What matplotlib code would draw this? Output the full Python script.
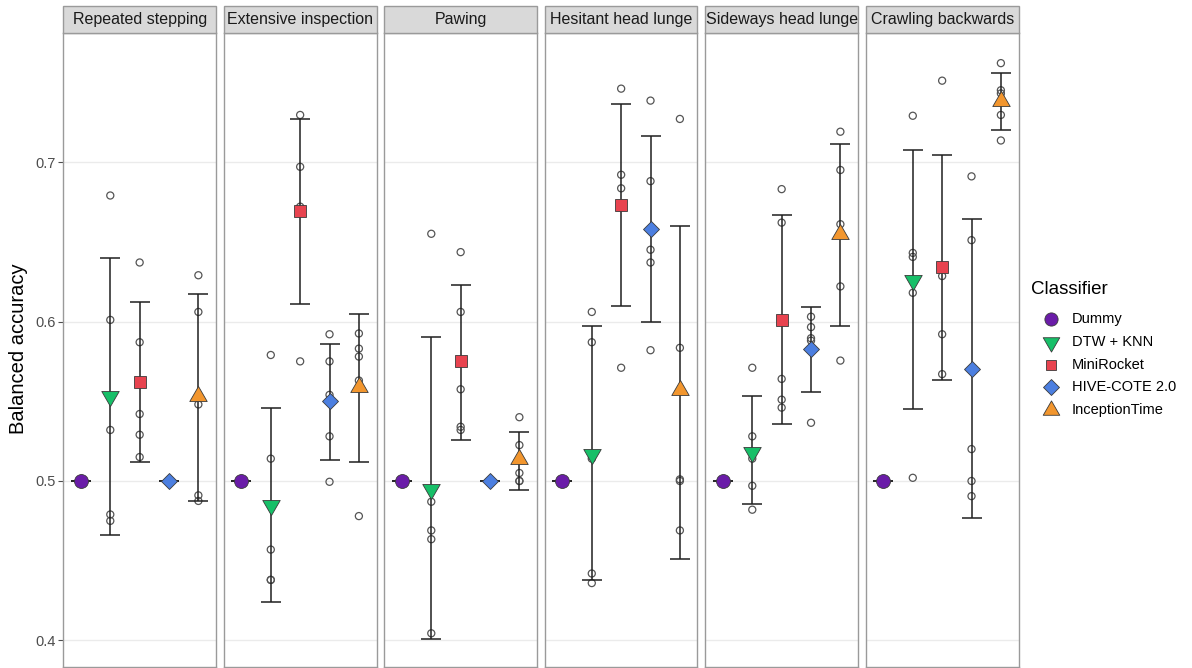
import numpy as np
import matplotlib
matplotlib.use("Agg")
import matplotlib.pyplot as plt
from matplotlib.lines import Line2D
from matplotlib.patches import Rectangle
from matplotlib.path import Path

plt.rcParams["font.family"] = ["Liberation Sans", "DejaVu Sans"]

BEHAVIOURS = ["Repeated stepping", "Extensive inspection", "Pawing",
              "Hesitant head lunge", "Sideways head lunge", "Crawling backwards"]
CLASSIFIERS = ["Dummy", "DTW + KNN", "MiniRocket", "HIVE-COTE 2.0", "InceptionTime"]

# mean balanced accuracy per behaviour (rows) and classifier (columns)
MEAN = [
    [0.500, 0.553, 0.562, 0.500, 0.553],
    [0.500, 0.485, 0.669, 0.550, 0.559],
    [0.500, 0.495, 0.575, 0.500, 0.5135],
    [0.500, 0.517, 0.673, 0.658, 0.557],
    [0.500, 0.518, 0.601, 0.583, 0.655],
    [0.500, 0.626, 0.634, 0.5705, 0.7385],
]
# error bar ends (mean -/+ sd)
LOWER = [
    [0.500, 0.466, 0.512, 0.500, 0.4875],
    [0.500, 0.424, 0.611, 0.513, 0.512],
    [0.500, 0.401, 0.526, 0.500, 0.4945],
    [0.500, 0.438, 0.6095, 0.5995, 0.451],
    [0.500, 0.4855, 0.5355, 0.556, 0.597],
    [0.500, 0.545, 0.5635, 0.477, 0.720],
]
UPPER = [
    [0.500, 0.640, 0.612, 0.500, 0.617],
    [0.500, 0.546, 0.727, 0.586, 0.605],
    [0.500, 0.590, 0.623, 0.500, 0.5305],
    [0.500, 0.597, 0.7365, 0.7165, 0.660],
    [0.500, 0.553, 0.667, 0.609, 0.7115],
    [0.500, 0.7075, 0.7045, 0.664, 0.756],
]
# balanced accuracy of each of the five runs
RUNS = [
    [[0.5] * 5,
     [0.679, 0.601, 0.532, 0.479, 0.475],
     [0.637, 0.587, 0.542, 0.529, 0.515],
     [0.5] * 5,
     [0.629, 0.606, 0.548, 0.491, 0.4875]],
    [[0.5] * 5,
     [0.579, 0.514, 0.457, 0.438, 0.438],
     [0.7295, 0.697, 0.672, 0.575, 0.670],
     [0.592, 0.575, 0.554, 0.528, 0.4995],
     [0.5925, 0.583, 0.578, 0.563, 0.478]],
    [[0.5] * 5,
     [0.655, 0.487, 0.469, 0.4635, 0.4045],
     [0.6435, 0.606, 0.5575, 0.534, 0.532],
     [0.5] * 5,
     [0.540, 0.5225, 0.500, 0.500, 0.505]],
    [[0.5] * 5,
     [0.606, 0.587, 0.514, 0.442, 0.436],
     [0.746, 0.692, 0.6835, 0.673, 0.571],
     [0.7385, 0.688, 0.645, 0.637, 0.582],
     [0.727, 0.5835, 0.500, 0.501, 0.469]],
    [[0.5] * 5,
     [0.571, 0.528, 0.514, 0.497, 0.482],
     [0.683, 0.662, 0.564, 0.551, 0.546],
     [0.603, 0.5965, 0.5895, 0.588, 0.5365],
     [0.719, 0.695, 0.661, 0.622, 0.5755]],
    [[0.5] * 5,
     [0.729, 0.643, 0.6405, 0.618, 0.502],
     [0.751, 0.633, 0.6285, 0.592, 0.567],
     [0.691, 0.651, 0.520, 0.500, 0.4905],
     [0.762, 0.745, 0.743, 0.7295, 0.7135]],
]
Y_TICKS = [0.4, 0.5, 0.6, 0.7]

COLORS = ["#6a1ca8", "#17bf68", "#e8434f", "#4c7fe0", "#f2962e"]

# equilateral triangles, centred on the centroid
TRI_DOWN = Path([(-1, 0.577), (1, 0.577), (0, -1.155), (-1, 0.577)],
                [Path.MOVETO, Path.LINETO, Path.LINETO, Path.CLOSEPOLY])
TRI_UP = Path([(-1, -0.577), (1, -0.577), (0, 1.155), (-1, -0.577)],
              [Path.MOVETO, Path.LINETO, Path.LINETO, Path.CLOSEPOLY])
MARKERS = ["o", TRI_DOWN, "s", "D", TRI_UP]
MSIZES = [10, 14.5, 8.3, 8.6, 14.5]

W, H = 1192, 668
PANEL_LEFT, PANEL_W, PANEL_GAP = 63.3, 152.7, 7.8
PANEL_TOP, PANEL_BOTTOM, STRIP_TOP = 33.3, 666.8, 6.0
YLIM = (0.3835, 0.7807)
BORDER = "#9a9a9a"

fig = plt.figure(figsize=(W / 100, H / 100), dpi=100)
fig.patch.set_facecolor("white")

x = np.arange(len(CLASSIFIERS))
for p, name in enumerate(BEHAVIOURS):
    left = PANEL_LEFT + p * (PANEL_W + PANEL_GAP)
    ax = fig.add_axes([left / W, 1 - PANEL_BOTTOM / H, PANEL_W / W,
                       (PANEL_BOTTOM - PANEL_TOP) / H])
    ax.set_xlim(-0.6, len(CLASSIFIERS) - 0.4)
    ax.set_ylim(*YLIM)
    ax.set_xticks([])
    ax.set_yticks(Y_TICKS)
    ax.yaxis.grid(True, color="#ebebeb", linewidth=1.0)
    ax.set_axisbelow(True)
    for spine in ax.spines.values():
        spine.set_edgecolor(BORDER)
        spine.set_linewidth(1.0)
    if p == 0:
        ax.set_yticklabels([f"{t:.1f}" for t in Y_TICKS])
        ax.tick_params(axis="y", colors="#4d4d4d", labelsize=10.5, length=3.5,
                       width=0.8, pad=2)
    else:
        ax.tick_params(axis="y", left=False, labelleft=False)

    for i in range(len(CLASSIFIERS)):
        runs = RUNS[p][i]
        ax.scatter(np.full(len(runs), x[i]), runs, s=26, facecolors="none",
                   edgecolors="#555555", linewidths=0.9, zorder=2)
        ax.errorbar(x[i], MEAN[p][i],
                    yerr=[[MEAN[p][i] - LOWER[p][i]], [UPPER[p][i] - MEAN[p][i]]],
                    fmt="none", ecolor="#1f1f1f", elinewidth=1.1, capsize=7.2,
                    capthick=1.1, zorder=3)
        ax.plot(x[i], MEAN[p][i], marker=MARKERS[i], markersize=MSIZES[i],
                markerfacecolor=COLORS[i], markeredgecolor="#3a3a3a",
                markeredgewidth=0.6, linestyle="none", zorder=4)

    # facet strip
    strip = Rectangle((left / W, 1 - PANEL_TOP / H), PANEL_W / W,
                      (PANEL_TOP - STRIP_TOP) / H, transform=fig.transFigure,
                      facecolor="#d9d9d9", edgecolor=BORDER, linewidth=1.0)
    fig.patches.append(strip)
    fig.text((left + PANEL_W / 2) / W, 1 - (PANEL_TOP + STRIP_TOP) / 2 / H, name,
             ha="center", va="center", fontsize=11.5, color="#1a1a1a")

fig.text(19 / W, 1 - 349 / H, "Balanced accuracy", rotation=90,
         ha="center", va="center", fontsize=14.5, color="black")

# legend, drawn by hand so the keys sit where the ggplot-style layout puts them
fig.text(1031 / W, 1 - 289 / H, "Classifier", ha="left", va="center",
         fontsize=13.5, color="black")
for i, label in enumerate(CLASSIFIERS):
    yk = 1 - (319 + i * 22.8) / H
    fig.add_artist(Line2D([1051 / W], [yk], transform=fig.transFigure,
                          marker=MARKERS[i], markersize=MSIZES[i] * 0.95,
                          markerfacecolor=COLORS[i], markeredgecolor="#3a3a3a",
                          markeredgewidth=0.6, linestyle="none"))
    fig.text(1072 / W, yk, label, ha="left", va="center", fontsize=10.5,
             color="black")

fig.savefig("out.png", dpi=100, facecolor="white")
